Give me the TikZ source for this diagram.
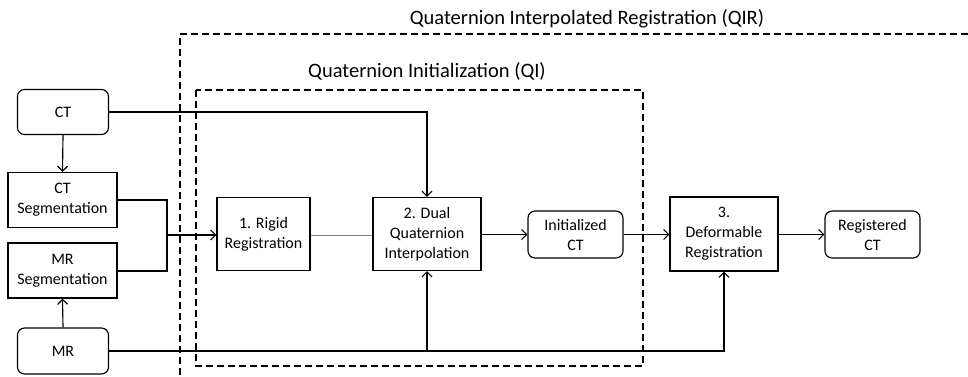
\documentclass[tikz,border=0pt]{standalone}
\usepackage{fontspec}
\setmainfont{Carlito}
\usetikzlibrary{arrows.meta}
\begin{document}
\begin{tikzpicture}[x=1pt,y=-1pt,
  every node/.style={font=\fontsize{16}{20}\selectfont, align=center, inner sep=0pt},
  rbox/.style={draw, line width=1.15pt, rounded corners=7pt},
  sbox/.style={draw, line width=1.15pt},
  conn/.style={line width=1.15pt},
  arr/.style={conn, -{Straight Barb[length=5pt,width=10pt]}},
  dbox/.style={line width=1.1pt, dash pattern=on 7pt off 4pt},
  title/.style={font=\fontsize{20.5}{24}\selectfont}]
\useasboundingbox (0,0) rectangle (968,376);
% dashed regions
\draw[dbox] (968,34) -- (180,34) -- (180,380);
\draw[dbox] (196,90) rectangle (643,366);
\node[title] (qir) at (587,19) {Quaternion Interpolated Registration (QIR)};
\node[title] (qi) at (427,71) {Quaternion Initialization (QI)};
% nodes
\node[rbox, minimum width=91pt, minimum height=45pt] (ct) at (63,112) {CT};
\node[sbox, minimum width=109pt, minimum height=55pt] (ctseg) at (62.5,200) {CT\\Segmentation};
\node[sbox, minimum width=109pt, minimum height=55pt] (mrseg) at (62.5,270.5) {MR\\Segmentation};
\node[rbox, minimum width=91pt, minimum height=46pt] (mr) at (63,351) {MR};
\node[sbox, minimum width=93pt, minimum height=73pt] (rigid) at (263.5,234) {1. Rigid\\Registration};
\node[sbox, minimum width=108pt, minimum height=73pt] (dual) at (427,234) {2. Dual\\Quaternion\\Interpolation};
\node[rbox, minimum width=95pt, minimum height=47pt] (init) at (575.5,234.5) {Initialized\\CT};
\node[sbox, minimum width=108pt, minimum height=74pt] (deform) at (724,234) {3.\\Deformable\\Registration};
\node[rbox, minimum width=95pt, minimum height=47pt] (reg) at (872.5,234.5) {Registered\\CT};
\coordinate (merge) at (167,235);
% connectors
\draw[arr] (ct.south) -- (ctseg.north);
\draw[arr] (mr.north) -- (mrseg.south);
\draw[conn] (ctseg.east |- 0,200) -| (merge) |- (mrseg.east |- 0,271);
\draw[arr] (merge) -- (rigid.west |- merge);
\draw[line width=0.6pt, gray] (rigid.east |- merge) -- (dual.west |- merge);
\draw[arr] (ct.east) -| (dual.north);
\draw[arr] (mr.east) -| (deform.south);
\draw[arr] (dual.south |- mr.east) -- (dual.south);
\draw[arr] (dual.east |- init) -- (init.west);
\draw[arr] (init.east) -- (deform.west |- init);
\draw[arr] (deform.east |- reg) -- (reg.west);
\end{tikzpicture}
\end{document}
